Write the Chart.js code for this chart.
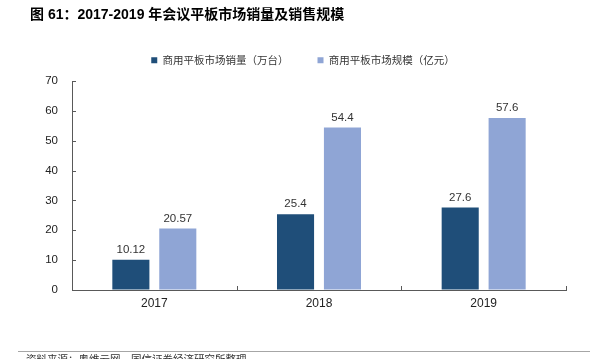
<!DOCTYPE html>
<html>
<head>
<meta charset="utf-8">
<script src="https://cdn.jsdelivr.net/npm/chart.js@4"></script>
<style>
	body { margin: 0; background: #fff; }
	.wrap { position: relative; width: 595px; height: 359px; overflow: hidden; }
	.title { position: absolute; left: 30px; top: 3px; font: bold 14px "Liberation Sans", "Noto Sans CJK SC", sans-serif; color: #000; white-space: nowrap; }
	.rule { position: absolute; left: 18px; top: 351px; width: 572px; height: 1px; background: #a6a6a6; }
	.source { position: absolute; left: 26px; top: 351px; font: 10.5px "Noto Sans CJK SC", sans-serif; color: #333; white-space: nowrap; }
	canvas { position: absolute; left: 0; top: 0; }
</style>
</head>
<body>
<div class="wrap">
	<canvas id="chart" width="595" height="359"></canvas>
	<div class="title">图 61：2017-2019 年会议平板市场销量及销售规模</div>
	<div class="rule"></div>
	<div class="source">资料来源：奥维云网，国信证券经济研究所整理</div>
</div>
<script>
const years = ['2017', '2018', '2019']
const salesVolume = [10.12, 25.4, 27.6]   // 万台
const marketSize = [20.57, 54.4, 57.6]    // 亿元
const seriesNames = ['商用平板市场销量（万台）', '商用平板市场规模（亿元）']
const yTicks = [0, 10, 20, 30, 40, 50, 60, 70]

const axisColor = '#595959'
const labelFont = '"Liberation Sans", Arial, sans-serif'

// value labels above the bars, and small inward tick marks on both axes
const extras = {
	id: 'extras',
	beforeLayout(chart) {
		// legend sits a bit above the plot, so fix its box height
		const lg = chart.legend
		if (lg && !lg._fixed) {
			const fit = lg.fit
			lg.fit = function () {
				fit.call(this)
				this.height = 55
			}
			lg._fixed = true
		}
	},
	afterDatasetsDraw(chart) {
		const ctx = chart.ctx
		ctx.save()
		ctx.fillStyle = '#333'
		ctx.font = '11.5px ' + labelFont
		ctx.textAlign = 'center'
		ctx.textBaseline = 'alphabetic'
		chart.data.datasets.forEach(function (ds, i) {
			chart.getDatasetMeta(i).data.forEach(function (bar, j) {
				ctx.fillText(String(ds.data[j]), bar.x, bar.y - 7)
			})
		})
		ctx.restore()
	},
	afterDraw(chart) {
		const ctx = chart.ctx
		const area = chart.chartArea
		const x = chart.scales.x
		const y = chart.scales.y
		ctx.save()
		ctx.strokeStyle = axisColor
		ctx.lineWidth = 1
		ctx.beginPath()
		yTicks.forEach(function (v) {
			const py = Math.round(y.getPixelForValue(v)) + 0.5
			ctx.moveTo(area.left, py)
			ctx.lineTo(area.left + 4, py)
		})
		let edges = []
		for (let i = 0; i < years.length - 1; i++) {
			edges.push((x.getPixelForValue(i) + x.getPixelForValue(i + 1)) / 2)
		}
		edges.push(area.right)
		edges.forEach(function (px) {
			px = Math.round(px) + 0.5
			ctx.moveTo(px, area.bottom)
			ctx.lineTo(px, area.bottom - 4)
		})
		ctx.stroke()
		ctx.restore()
	},
}

new Chart(document.getElementById('chart'), {
	type: 'bar',
	data: {
		labels: years,
		datasets: [
			{ label: seriesNames[0], data: salesVolume, backgroundColor: '#1F4E79' },
			{ label: seriesNames[1], data: marketSize, backgroundColor: '#8FA5D5' },
		],
	},
	options: {
		responsive: false,
		animation: false,
		events: [],
		layout: { padding: { top: 26, left: 40, right: 29, bottom: 49 } },
		categoryPercentage: 0.57,
		barPercentage: 0.79,
		plugins: {
			legend: {
				position: 'top',
				labels: {
					boxWidth: 6,
					boxHeight: 6,
					padding: 29,
					color: '#333',
					font: { family: '"Noto Sans CJK SC", sans-serif', size: 10.5 },
				},
			},
			tooltip: { enabled: false },
		},
		scales: {
			x: {
				grid: { display: true, drawOnChartArea: false, drawTicks: false },
				border: { display: true, color: axisColor, width: 1 },
				ticks: { color: '#222', padding: 6, font: { family: labelFont, size: 12 } },
				afterFit(scale) { scale.height = 20 },
			},
			y: {
				min: 0,
				max: 70,
				grid: { display: true, drawOnChartArea: false, drawTicks: false },
				border: { display: true, color: axisColor, width: 1 },
				ticks: {
					stepSize: 10,
					color: '#222',
					padding: 14,
					font: { family: labelFont, size: 11.5 },
				},
				afterFit(scale) { scale.width = 32 },
			},
		},
	},
	plugins: [extras],
})
</script>
</body>
</html>
